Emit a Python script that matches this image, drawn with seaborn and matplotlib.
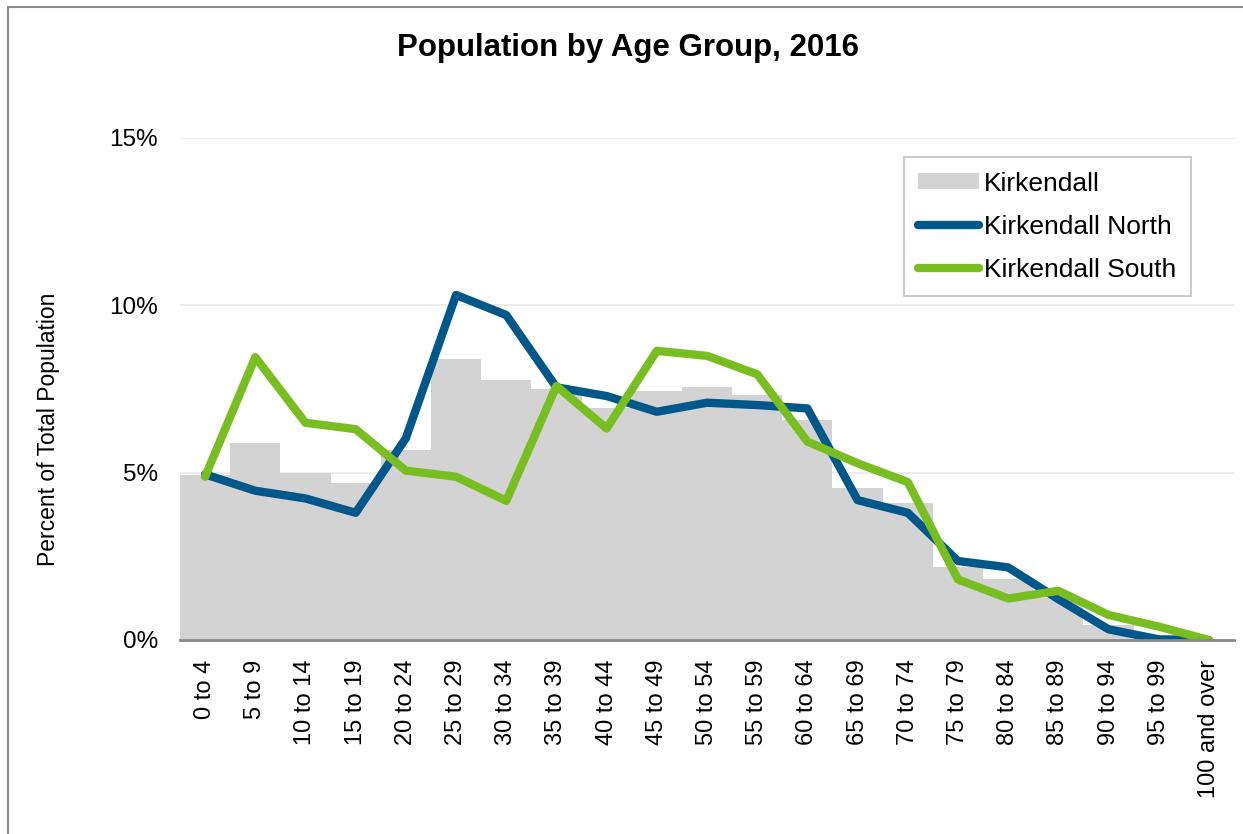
import matplotlib
matplotlib.use("Agg")
import matplotlib.pyplot as plt
from matplotlib.lines import Line2D
from matplotlib.patches import Patch, Rectangle
from matplotlib.ticker import FuncFormatter
import pandas as pd
import seaborn as sns

# data (percent of total population)
age_groups = ["0 to 4", "5 to 9", "10 to 14", "15 to 19", "20 to 24", "25 to 29",
              "30 to 34", "35 to 39", "40 to 44", "45 to 49", "50 to 54", "55 to 59",
              "60 to 64", "65 to 69", "70 to 74", "75 to 79", "80 to 84", "85 to 89",
              "90 to 94", "95 to 99", "100 and over"]
kirkendall = [4.93, 5.88, 5.0, 4.68, 5.68, 8.40, 7.77, 7.51, 6.94, 7.44, 7.57,
              7.32, 6.57, 4.53, 4.10, 2.17, 1.82, 1.25, 0.45, 0.10, 0.02]
north = [4.95, 4.46, 4.23, 3.80, 6.03, 10.31, 9.71, 7.55, 7.29, 6.82, 7.09,
         7.02, 6.92, 4.18, 3.80, 2.36, 2.17, 1.22, 0.32, 0.02, 0.0]
south = [4.88, 8.45, 6.49, 6.30, 5.06, 4.88, 4.16, 7.59, 6.32, 8.64, 8.49,
         7.94, 5.93, 5.28, 4.72, 1.81, 1.24, 1.47, 0.75, 0.40, 0.0]

df = pd.DataFrame({"age": age_groups, "Kirkendall": kirkendall,
                   "Kirkendall North": north, "Kirkendall South": south})

gray = "#D3D3D3"
blue = "#00578A"
green = "#78BE20"

sns.set_theme(style="white")
plt.rcParams["font.family"] = ["Liberation Sans", "DejaVu Sans"]
plt.rcParams["text.color"] = "black"

fig = plt.figure(figsize=(12.43, 8.34), dpi=100)
ax = fig.add_axes([180 / 1243, 1 - 640 / 834, 1054 / 1243, 502 / 834])

sns.barplot(data=df, x="age", y="Kirkendall", color=gray, width=1.0,
            saturation=1, linewidth=0, ax=ax, zorder=2)
sns.pointplot(data=df, x="age", y="Kirkendall North", color=blue, markers="",
              linewidth=6, solid_capstyle="round", solid_joinstyle="round",
              ax=ax, zorder=3)
sns.pointplot(data=df, x="age", y="Kirkendall South", color=green, markers="",
              linewidth=6, solid_capstyle="round", solid_joinstyle="round",
              ax=ax, zorder=4)

ax.set_xlim(-0.5, len(age_groups) - 0.5)
ax.set_ylim(0, 15)
ax.set_yticks([0, 5, 10, 15])
ax.yaxis.set_major_formatter(FuncFormatter(lambda v, p: f"{v:.0f}%"))
ax.grid(axis="y", color="#EBEBEB", linewidth=1.3, zorder=0)
ax.grid(axis="x", visible=False)
ax.set_axisbelow(True)

for s in ["top", "right", "left"]:
    ax.spines[s].set_visible(False)
ax.spines["bottom"].set_color("#898989")
ax.spines["bottom"].set_linewidth(2)
ax.spines["bottom"].set_zorder(5)

ax.set_xlabel("")
ax.set_ylabel("Percent of Total Population", fontsize=16.5, color="black")
ax.yaxis.set_label_coords(-0.114, 0.42)
ax.tick_params(axis="x", labelrotation=90, labelsize=17, pad=14, length=0,
               colors="black")
ax.tick_params(axis="y", labelsize=17.5, pad=16, length=0, colors="black")
for lbl in ax.get_xticklabels():
    lbl.set_verticalalignment("top")

handles = [Patch(facecolor=gray, edgecolor="none", label="Kirkendall"),
           Line2D([], [], color=blue, lw=6, solid_capstyle="round",
                  label="Kirkendall North"),
           Line2D([], [], color=green, lw=6, solid_capstyle="round",
                  label="Kirkendall South")]
leg = ax.legend(handles=handles, loc="upper right", bbox_to_anchor=(0.959, 0.962),
                fontsize=19, frameon=True, fancybox=False, handlelength=2.3,
                handleheight=0.55, handletextpad=0.2, labelspacing=0.72,
                borderpad=0.55, borderaxespad=0, labelcolor="black")
leg.get_frame().set_edgecolor("#BFBFBF")
leg.get_frame().set_linewidth(1.5)
leg.set_zorder(6)

fig.text(0.505, 1 - 48 / 834, "Population by Age Group, 2016", ha="center",
         va="center", fontsize=22.5, fontweight="bold", color="black")

# chart border (top and left edges visible in the reference)
fig.add_artist(Rectangle((8 / 1243, -0.1), 1.2, 0.1 + 1 - 7 / 834,
                         transform=fig.transFigure, fill=False,
                         edgecolor="#8C8C8C", linewidth=1.5))

fig.savefig("out.png", dpi=100)
